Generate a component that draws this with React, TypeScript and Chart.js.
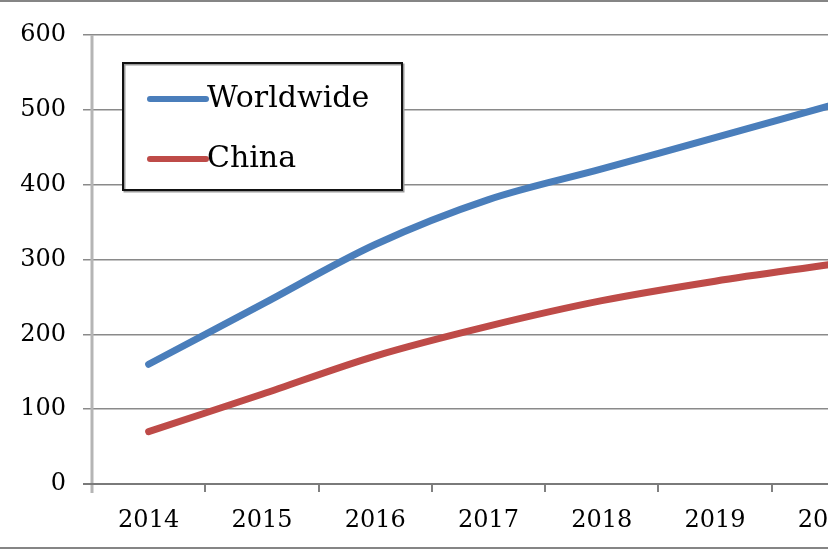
import React, { useEffect, useRef } from "react";
import { Chart, registerables } from "chart.js";

Chart.register(...registerables);

const years = ["2014", "2015", "2016", "2017", "2018", "2019", "2020"];
const worldwide = [160, 240, 320, 380, 421, 463, 505];
const china = [70, 120, 171, 211, 245, 271, 293];
const seriesNames = ["Worldwide", "China"];
const seriesColors = ["#4A7EBB", "#BE4B48"];

const FONT = "'DejaVu Serif', serif";

const axisLinesPlugin = {
  id: "axisLines",
  afterDraw(chart: any) {
    const { ctx, chartArea } = chart;
    ctx.save();
    ctx.strokeStyle = "#b5b5b5";
    ctx.lineWidth = 3;
    ctx.beginPath();
    ctx.moveTo(chartArea.left, chartArea.top);
    ctx.lineTo(chartArea.left, chartArea.bottom + 9);
    ctx.stroke();
    ctx.strokeStyle = "#7a7a7a";
    ctx.lineWidth = 2;
    ctx.beginPath();
    ctx.moveTo(chartArea.left - 9, chartArea.bottom);
    ctx.lineTo(chart.width, chartArea.bottom);
    ctx.stroke();
    ctx.restore();
  },
};

const boxLegendPlugin = {
  id: "boxLegend",
  afterDraw(chart: any) {
    const { ctx } = chart;
    const x = 123, y = 63, w = 279, h = 127;
    ctx.save();
    ctx.fillStyle = "#ffffff";
    ctx.fillRect(x, y, w, h);
    ctx.strokeStyle = "#9a9a9a";
    ctx.lineWidth = 2;
    ctx.strokeRect(x + 1.5, y + 1.5, w, h);
    ctx.strokeStyle = "#111";
    ctx.lineWidth = 2;
    ctx.strokeRect(x, y, w, h);
    ctx.font = "30px " + FONT;
    ctx.textBaseline = "middle";
    ctx.textAlign = "left";
    chart.data.datasets.forEach((ds: any, i: number) => {
      const cy = y + 36 + i * 60;
      ctx.strokeStyle = ds.borderColor;
      ctx.lineWidth = 6;
      ctx.lineCap = "round";
      ctx.beginPath();
      ctx.moveTo(x + 27, cy);
      ctx.lineTo(x + 83, cy);
      ctx.stroke();
      ctx.fillStyle = "#000";
      ctx.fillText(ds.label, x + 84, cy);
    });
    ctx.restore();
  },
};

export default function App() {
  const ref = useRef<HTMLCanvasElement>(null);
  useEffect(() => {
    if (!ref.current) return;
    const chart = new Chart(ref.current, {
      type: "line",
      data: {
        labels: years,
        datasets: [
          {
            label: seriesNames[0],
            data: worldwide,
            borderColor: seriesColors[0],
            backgroundColor: seriesColors[0],
            borderWidth: 7,
            pointRadius: 0,
            tension: 0.33,
            borderCapStyle: "round",
          },
          {
            label: seriesNames[1],
            data: china,
            borderColor: seriesColors[1],
            backgroundColor: seriesColors[1],
            borderWidth: 7,
            pointRadius: 0,
            tension: 0.33,
            borderCapStyle: "round",
          },
        ],
      },
      options: {
        responsive: false,
        animation: false,
        layout: { padding: { top: 35, right: 15, left: 0, bottom: 0 } },
        plugins: { legend: { display: false }, tooltip: { enabled: false } },
        scales: {
          x: {
            offset: true,
            border: { display: false },
            grid: {
              offset: true,
              drawOnChartArea: false,
              drawTicks: true,
              tickLength: 8,
              color: "#808080",
              lineWidth: 2,
            },
            ticks: {
              color: "#000",
              font: { family: FONT, size: 24 },
              padding: 14,
              maxRotation: 0,
            },
            afterFit: (s: any) => {
              s.height = 66;
            },
          },
          y: {
            min: 0,
            max: 600,
            border: { display: false },
            grid: {
              color: "#8a8a8a",
              lineWidth: 1.5,
              tickLength: 9,
              drawTicks: true,
            },
            ticks: {
              stepSize: 100,
              color: "#000",
              font: { family: FONT, size: 24 },
              padding: 17,
            },
            afterFit: (s: any) => {
              s.width = 92;
            },
          },
        },
      },
      plugins: [axisLinesPlugin, boxLegendPlugin],
    });
    return () => chart.destroy();
  }, []);

  return (
    <div
      style={{
        position: "fixed",
        left: 0,
        top: 0,
        width: 828,
        height: 550,
        overflow: "hidden",
        background: "#fff",
      }}
    >
      <canvas
        ref={ref}
        width={900}
        height={550}
        style={{ position: "absolute", left: 0, top: 0, width: 900, height: 550 }}
      />
      <div style={{ position: "absolute", left: 0, top: 0, width: 828, height: 2, background: "#858585" }} />
      <div style={{ position: "absolute", left: 0, top: 547, width: 828, height: 2, background: "#858585" }} />
    </div>
  );
}
